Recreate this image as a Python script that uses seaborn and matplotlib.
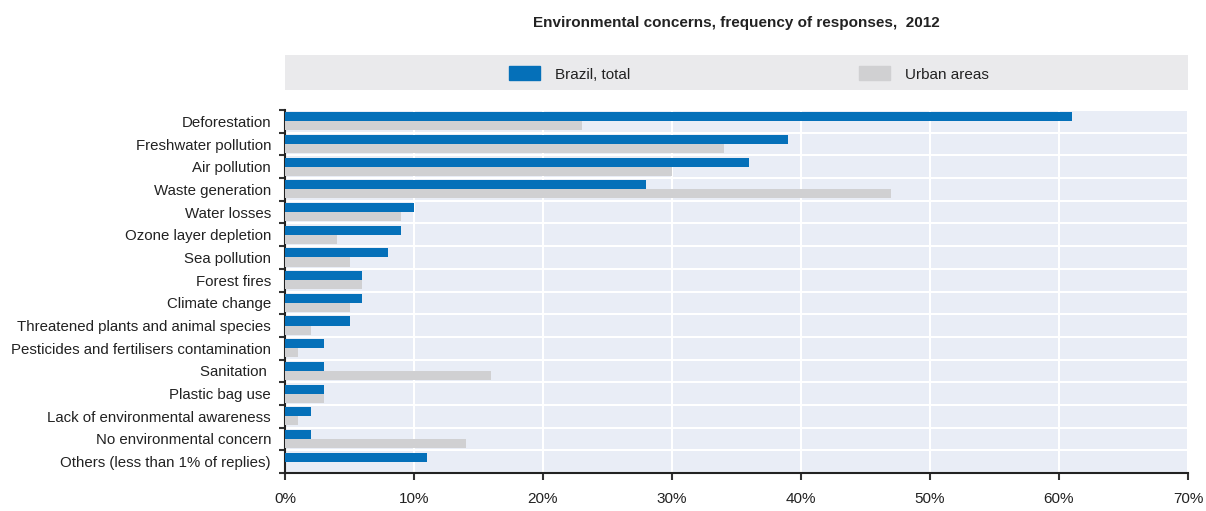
import matplotlib.pyplot as plt
import matplotlib.patches as mpatches
import numpy as np
import pandas as pd
import seaborn as sns

categories = ["Deforestation", "Freshwater pollution", "Air pollution", "Waste generation",
              "Water losses", "Ozone layer depletion", "Sea pollution", "Forest fires",
              "Climate change", "Threatened plants and animal species",
              "Pesticides and fertilisers contamination", "Sanitation ", "Plastic bag use",
              "Lack of environmental awareness", "No environmental concern",
              "Others (less than 1% of replies)"]
brazil_total = [61, 39, 36, 28, 10, 9, 8, 6, 6, 5, 3, 3, 3, 2, 2, 11]
urban_areas = [23, 34, 30, 47, 9, 4, 5, 6, 5, 2, 1, 16, 3, 1, 14, 0]
series = ["Brazil, total", "Urban areas"]
xticks = [0, 10, 20, 30, 40, 50, 60, 70]

df = pd.DataFrame({"concern": categories * 2,
                   "value": brazil_total + urban_areas,
                   "series": [series[0]] * len(categories) + [series[1]] * len(categories)})

sns.set_style("white")
plt.rcParams['font.family'] = ['Liberation Sans', 'DejaVu Sans']

fig = plt.figure(figsize=(12.06, 5.11), dpi=100)
ax = fig.add_axes([285/1206, 1-473/511, (1188-285)/1206, (473-110)/511])
ax.set_facecolor("#E9EDF6")

sns.barplot(data=df, y="concern", x="value", hue="series", orient="h",
            palette=["#0570B9", "#D0D0D2"], width=0.8, saturation=1,
            linewidth=0, ax=ax, legend=False, zorder=3)

ax.set_xlim(0, 70)
ax.set_ylim(len(categories)-0.5, -0.5)
ax.set_xticks(xticks)
ax.set_xticklabels([f"{t}%" for t in xticks], fontsize=11, color="#222222")
ax.set_yticks(np.arange(len(categories)))
ax.set_yticklabels(categories, fontsize=10.8, color="#222222")
ax.set_yticks(np.arange(len(categories)+1)-0.5, minor=True)
ax.tick_params(axis="y", which="major", left=False, length=0, pad=10)
ax.tick_params(axis="y", which="minor", left=True, length=4, width=1.5, color="#333333")
ax.tick_params(axis="x", which="major", bottom=True, length=5, width=1.5, color="#333333", pad=9)
ax.set_xlabel("")
ax.set_ylabel("")

ax.grid(axis="x", color="white", linewidth=1.5, zorder=1)
ax.grid(axis="y", which="minor", color="white", linewidth=1.5, zorder=1)
ax.set_axisbelow(True)

for s in ["top", "right"]:
    ax.spines[s].set_visible(False)
for s in ["left", "bottom"]:
    ax.spines[s].set_color("#222222")
    ax.spines[s].set_linewidth(1.5)

fig.patches.append(mpatches.Rectangle((285/1206, 1-90/511), (1188-285)/1206, 35/511,
                                      transform=fig.transFigure, facecolor="#EAEAEC",
                                      edgecolor="none", zorder=0))
handles = [mpatches.Patch(color="#0570B9"), mpatches.Patch(color="#D0D0D2")]
fig.legend(handles, series, loc="center", bbox_to_anchor=(749/1206, 1-74/511), ncol=2,
           frameon=False, fontsize=11, handlelength=2.0, handleheight=1.0,
           handletextpad=1.0, columnspacing=15, labelcolor="#222222")

fig.text(736/1206, 1-23/511, "Environmental concerns, frequency of responses,  2012",
         ha="center", va="center", fontsize=11, fontweight="bold", color="#222222")

fig.savefig("out.png", dpi=100)
